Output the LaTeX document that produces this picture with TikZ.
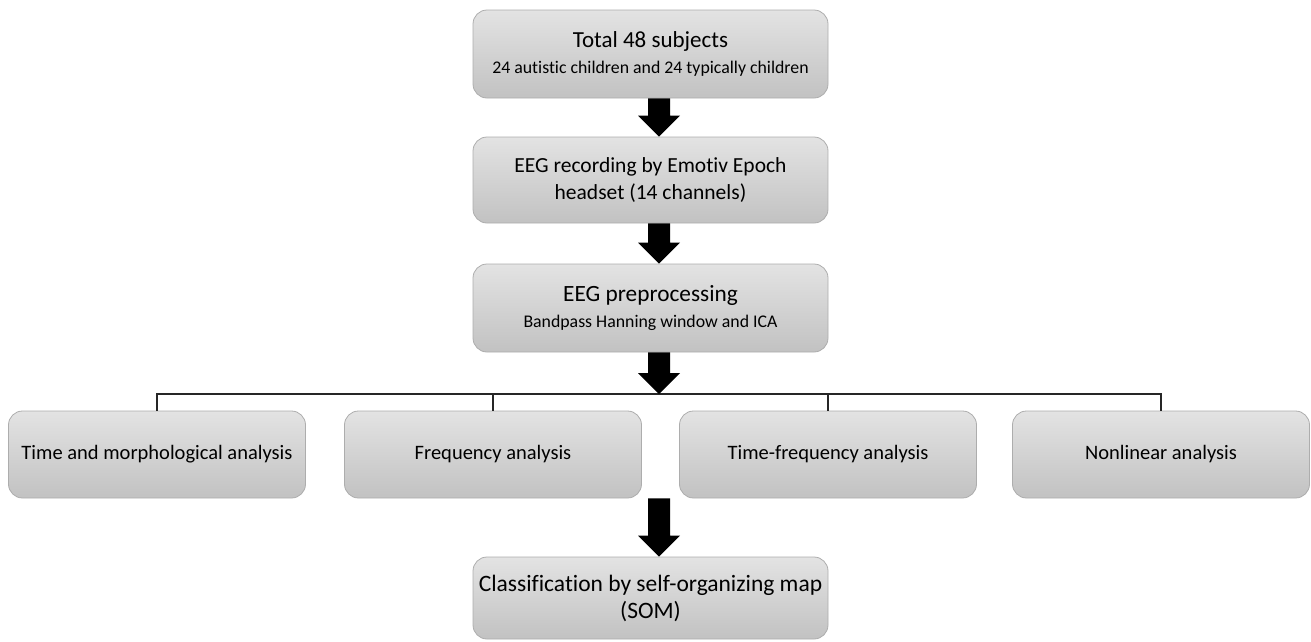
\documentclass[tikz,border=0pt]{standalone}
\usepackage{fontspec}
\setmainfont{Carlito}[Ligatures={NoCommon}]
\usetikzlibrary{calc}
\tikzset{
  box/.style={draw=black!32, line width=0.8pt, rounded corners=14pt,
    top color=black!11, bottom color=black!24, align=center,
    inner sep=2pt, font=\fontsize{23}{26.5}\selectfont},
  topbox/.style={box, minimum width=355pt},
  subbox/.style={box, minimum width=297pt, minimum height=87pt, font=\fontsize{20.5}{24}\selectfont},
  bus/.style={line width=1.2pt, black!85}
}
\newcommand\blkarrow[2]{\fill let \p1=(#1), \p2=(#2) in
  (\x1-2.5pt,\y1) -- (\x1+19.5pt,\y1) -- (\x1+19.5pt,\y2+21pt) -- (\x1+29.5pt,\y2+21pt)
  -- (\x1+8.5pt,\y2) -- (\x1-12.5pt,\y2+21pt) -- (\x1-2.5pt,\y2+21pt) -- cycle;}
\begin{document}
\begin{tikzpicture}[x=1pt,y=-1pt]
\useasboundingbox (0,0) rectangle (1311,641);
\node[topbox, minimum height=88pt] (b1) at (650.5,54)
  {\fontsize{23}{24}\selectfont Total 48 subjects\\[0pt]\fontsize{17.8}{19}\selectfont 24 autistic children and 24 typically children};
\node[topbox, minimum height=86pt, font=\fontsize{21.5}{26.5}\selectfont] (b2) at (650.5,180)
  {EEG recording by Emotiv Epoch\\headset (14 channels)};
\node[topbox, minimum height=88pt] (b3) at (650.5,308)
  {\fontsize{23.3}{24}\selectfont EEG preprocessing\\[0pt]\fontsize{17.8}{19}\selectfont Bandpass Hanning window and ICA};
\node[subbox] (ta) at (157,454.5) {Time and morphological analysis};
\node[subbox] (fa) at (493,454.5) {Frequency analysis};
\node[subbox] (tf) at (828,454.5) {Time-frequency analysis};
\node[subbox] (na) at (1161,454.5) {Nonlinear analysis};
\node[topbox, minimum height=82pt, font=\fontsize{23.5}{27}\selectfont] (b5) at (650.5,598)
  {Classification by self-organizing map\\(SOM)};
\coordinate (busc) at (650.5,394);
\coordinate (a4) at (b3.south |- fa.south);
\draw[bus] (ta.north) -- (ta.north |- busc) -- (na.north |- busc) -- (na.north);
\draw[bus] (fa.north) -- (fa.north |- busc);
\draw[bus] (tf.north) -- (tf.north |- busc);
\blkarrow{b1.south}{b2.north}
\blkarrow{b2.south}{b3.north}
\blkarrow{b3.south}{busc}
\blkarrow{a4}{b5.north}
\end{tikzpicture}
\end{document}
